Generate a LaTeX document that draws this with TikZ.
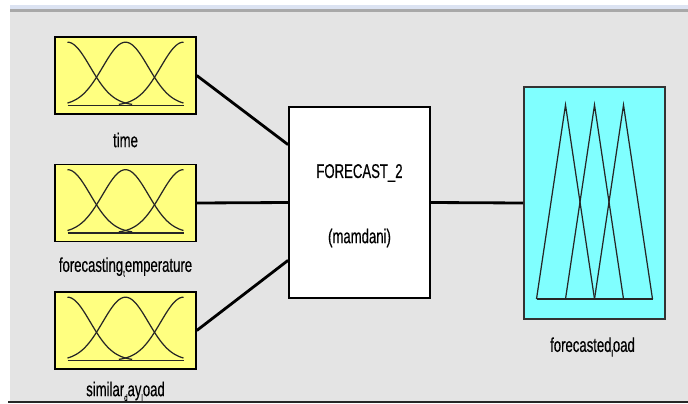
\documentclass[tikz,border=0pt]{standalone}
\usepackage{xcolor}
\usepackage{fontspec}
\usepackage{tikz}
\usetikzlibrary{positioning,calc}

\newfontfamily\mffont[FakeStretch=0.66,FakeBold=0.4]{Liberation Sans}
\definecolor{mfyellow}{HTML}{FFFF80}
\definecolor{mfcyan}{HTML}{80FFFF}
\definecolor{panelgray}{HTML}{E4E4E4}
\definecolor{barblue}{HTML}{DCE3F2}
\definecolor{bargray}{HTML}{A8A8A8}

% small lowered letter, the way the editor sets "_x" in a variable name
\newcommand{\sbs}[1]{\raisebox{-0.45ex}{\fontsize{8}{8}\selectfont #1}}

\begin{document}
\begin{tikzpicture}[
  inbox/.style={draw=black, line width=1.3pt, fill=mfyellow, inner sep=0pt,
                minimum width=4.23cm, minimum height=2.31cm},
  fisbox/.style={draw=black, line width=1.6pt, fill=white, inner sep=0pt,
                 minimum width=4.23cm, minimum height=5.73cm},
  outbox/.style={draw=black!80, line width=1.4pt, fill=mfcyan, inner sep=0pt,
                 minimum width=4.23cm, minimum height=6.96cm},
  lbl/.style={font=\mffont\fontsize{17}{20}\selectfont, inner sep=0pt},
  wire/.style={line width=2.4pt},
  mf/.style={line width=1.05pt, black!85}
]
\useasboundingbox (0,0) rectangle (20.64,-12.09);

% ─── window background ───
\fill[white] (0,0) rectangle (20.64,-12.09);
\fill[barblue]   (0.3,-0.15) rectangle (20.64,-0.27);
\fill[bargray]   (0.3,-0.27) rectangle (20.64,-0.35);
\fill[panelgray] (0.3,-0.35) rectangle (20.64,-12.03);
\fill[black!85]  (0.25,-12.03) rectangle (20.64,-12.09);

% ─── Input variables ───
\node[inbox] (time)    at (3.765, -2.265) {};
\node[inbox] (temp)    at (3.765, -6.09)  {};
\node[inbox] (simload) at (3.765, -9.915) {};

% bell-shaped membership functions in each input box
\foreach \inp in {time,temp,simload}{
  \begin{scope}[shift={(\inp.center)}]
    \draw[mf] plot[domain=-1.74:0.2, samples=40]
      (\x, {-0.9+1.9*exp(-(\x+1.74)*(\x+1.74)/0.9357)});
    \draw[mf] plot[domain=-1.74:1.74, samples=60]
      (\x, {-0.9+1.9*exp(-(\x)*(\x)/0.9357)});
    \draw[mf] plot[domain=-0.2:1.74, samples=40]
      (\x, {-0.9+1.9*exp(-(\x-1.74)*(\x-1.74)/0.9357)});
    \draw[mf] (-1.74,-0.9) -- (1.74,-0.9);
  \end{scope}
}

\node[lbl] (timelbl)    at (3.765, -4.2)   {time};
\node[lbl] (templbl)    at (3.765, -8.01)  {forecasting\sbs{t}emperature};
\node[lbl] (simloadlbl) at (3.765, -11.74) {similar\sbs{d}ay\sbs{l}oad};

% ─── Inference system ───
\node[fisbox] (fis) at (10.785, -6.075) {};
\node[lbl] (fisname) at (10.785, -5.19) {FORECAST\_2};
\node[lbl] (fistype) at (10.785, -7.14) {(mamdani)};

% ─── Output variable ───
\node[outbox] (load) at (17.835, -6.09) {};
\begin{scope}[shift={(load.center)}]
  \draw[mf] (-1.74,-2.88) -- (-0.87,2.94) -- (0,-2.88);
  \draw[mf] (-0.87,-2.88) -- (0,2.94) -- (0.87,-2.88);
  \draw[mf] (0,-2.88) -- (0.87,2.94) -- (1.74,-2.88);
  \draw[mf] (-1.74,-2.88) -- (1.74,-2.88);
\end{scope}
\node[lbl] (loadlbl) at (17.775, -10.41) {forecasted\sbs{l}oad};

% ─── Wiring ───
\draw[wire] (time.east)    -- (fis.141);
\draw[wire] (temp.east)    -- (fis.west);
\draw[wire] (simload.east) -- (fis.219);
\draw[wire] (fis.east)     -- (load.west);

\end{tikzpicture}
\end{document}
